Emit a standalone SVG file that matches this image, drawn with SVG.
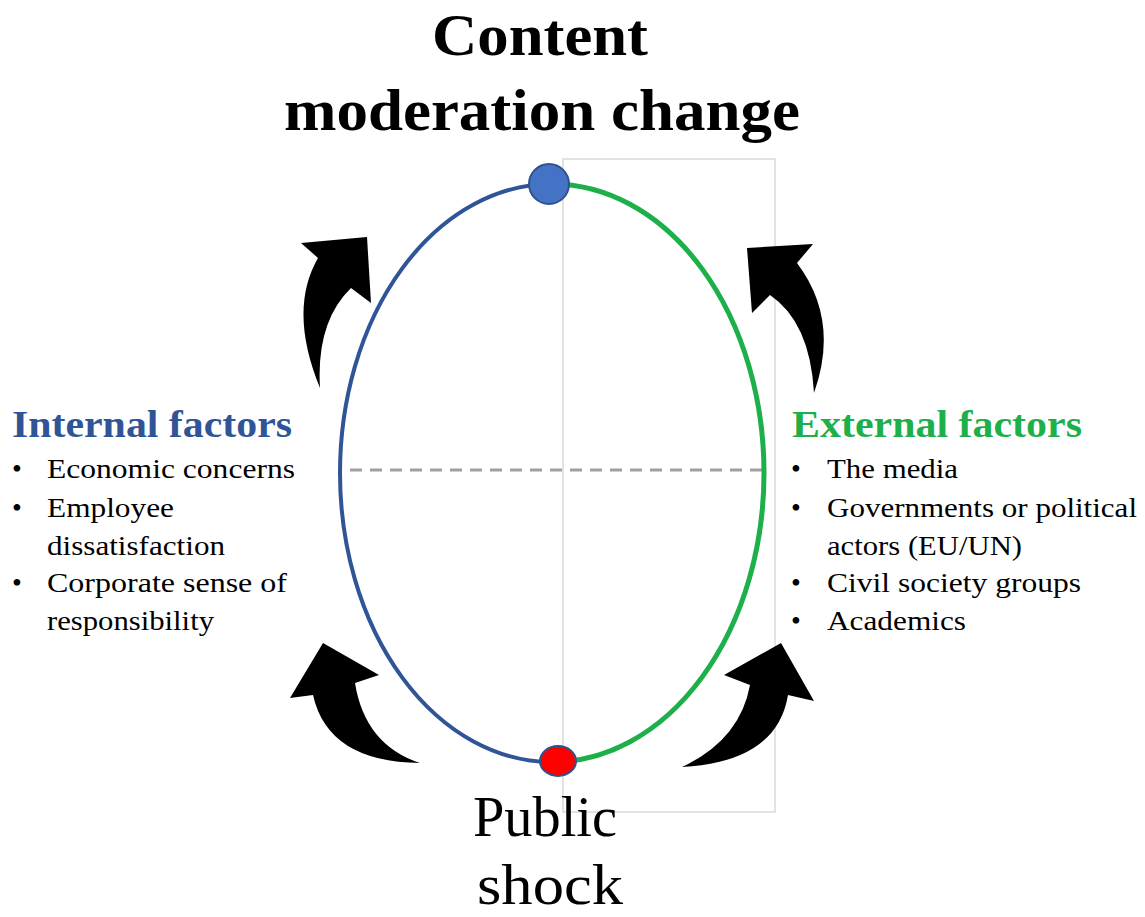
<svg xmlns="http://www.w3.org/2000/svg" width="1145" height="917" viewBox="0 0 1145 917">
<style>
.t{font-family:"Liberation Serif","Times New Roman",serif;fill:#000}
.title{font-size:60px;font-weight:bold}
.big{font-size:58px}
.head{font-size:38px;font-weight:bold}
.item{font-size:28px}
.arr{fill:#000}
</style>
<rect width="1145" height="917" fill="#fff"/>
<g id="frame"><rect x="563" y="159" width="212" height="653" fill="none" stroke="#C8C8C8" stroke-width="1"/></g>
<g id="connectors">
<line x1="350" y1="470" x2="762" y2="470" stroke="#A0A0A0" stroke-width="3" stroke-dasharray="12 8"/>
<path d="M552 184 A212 289 0 0 0 552 762" fill="none" stroke="#2F5597" stroke-width="4"/>
<path d="M552 184 A212 289 0 0 1 552 762" fill="none" stroke="#1DB04A" stroke-width="5"/>
<path class="arr" d="M367 237 L371 303 L351 288 Q316 322 320 388 Q288 310 318 258 L301 243 Z"/>
<path class="arr" d="M747 248 L813 244 L797 263 Q840 320 814 393 Q810 322 770 295 L752 313 Z"/>
<path class="arr" d="M323 643 L379 675 L355 683 Q365 745 420 763 Q328 762 313 695 L290 698 Z"/>
<path class="arr" d="M781 643 L814 701 L788 695 Q777 762 682 767 Q740 740 750 685 L724 675 Z"/>
</g>
<g id="node-top"><circle cx="549" cy="184" r="20" fill="#4472C4" stroke="#2F528F" stroke-width="2"/></g>
<g id="node-bottom"><ellipse cx="558" cy="761" rx="18" ry="15" fill="#FF0000" stroke="#2F528F" stroke-width="2"/></g>
<g id="title">
<text class="t title" x="432" y="55" textLength="216" lengthAdjust="spacingAndGlyphs">Content</text>
<text class="t title" x="284" y="130" textLength="516" lengthAdjust="spacingAndGlyphs">moderation change</text>
</g>
<g id="public-shock">
<text class="t big" x="473" y="836" textLength="144" lengthAdjust="spacingAndGlyphs">Public</text>
<text class="t big" x="477" y="904" textLength="146" lengthAdjust="spacingAndGlyphs">shock</text>
</g>
<g id="internal">
<text class="t head" x="12" y="437" style="fill:#2F5597" textLength="280" lengthAdjust="spacingAndGlyphs">Internal factors</text>
<text class="t item" x="12" y="478">•</text>
<text class="t item" x="47" y="478" textLength="248" lengthAdjust="spacingAndGlyphs">Economic concerns</text>
<text class="t item" x="12" y="517">•</text>
<text class="t item" x="47" y="517" textLength="127" lengthAdjust="spacingAndGlyphs">Employee</text>
<text class="t item" x="47" y="555" textLength="178" lengthAdjust="spacingAndGlyphs">dissatisfaction</text>
<text class="t item" x="12" y="592">•</text>
<text class="t item" x="47" y="592" textLength="240" lengthAdjust="spacingAndGlyphs">Corporate sense of</text>
<text class="t item" x="47" y="630" textLength="167" lengthAdjust="spacingAndGlyphs">responsibility</text>
</g>
<g id="external">
<text class="t head" x="792" y="437" style="fill:#1DB04A" textLength="290" lengthAdjust="spacingAndGlyphs">External factors</text>
<text class="t item" x="791" y="478">•</text>
<text class="t item" x="827" y="478" textLength="131" lengthAdjust="spacingAndGlyphs">The media</text>
<text class="t item" x="791" y="517">•</text>
<text class="t item" x="827" y="517" textLength="310" lengthAdjust="spacingAndGlyphs">Governments or political</text>
<text class="t item" x="827" y="555" textLength="195" lengthAdjust="spacingAndGlyphs">actors (EU/UN)</text>
<text class="t item" x="791" y="592">•</text>
<text class="t item" x="827" y="592" textLength="254" lengthAdjust="spacingAndGlyphs">Civil  society groups</text>
<text class="t item" x="791" y="630">•</text>
<text class="t item" x="827" y="630" textLength="139" lengthAdjust="spacingAndGlyphs">Academics</text>
</g>
</svg>
